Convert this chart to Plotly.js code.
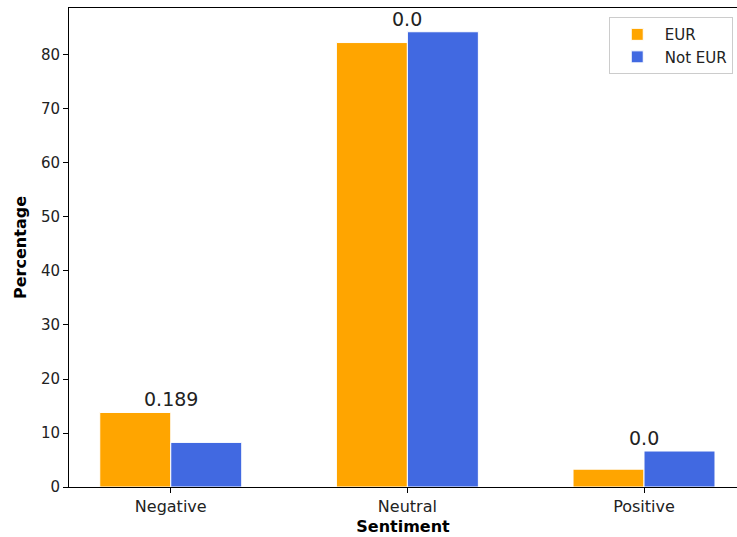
<!DOCTYPE html>
<html>
<head>
<meta charset="utf-8">
<script src="https://cdn.plot.ly/plotly-3.0.1.min.js"></script>
<style>html,body{margin:0;padding:0;background:#fff;}#chart{width:737px;height:537px;}</style>
</head>
<body>
<div id="chart"></div>
<script>
const categories = ["Negative", "Neutral", "Positive"];
const eurValues = [13.8, 82.3, 3.3];
const notEurValues = [8.26, 84.3, 6.66];
const groupLabels = ["0.189", "0.0", "0.0"];
const seriesNames = ["EUR", "Not EUR"];
const yTicks = [0, 10, 20, 30, 40, 50, 60, 70, 80];

const font = "DejaVu Sans, sans-serif";

const traces = [
  {type: "bar", name: seriesNames[0], x: categories, y: eurValues,
   marker: {color: "#FFA500", line: {color: "#ffffff", width: 1}}},
  {type: "bar", name: seriesNames[1], x: categories, y: notEurValues,
   marker: {color: "#4169E1", line: {color: "#ffffff", width: 1}}}
];

const annotations = categories.map((c, i) => ({
  x: c, y: Math.max(eurValues[i], notEurValues[i]), xref: "x", yref: "y",
  text: groupLabels[i], showarrow: false, yanchor: "bottom", yshift: 0,
  font: {family: font, size: 19, color: "#222"}
}));

const layout = {
  width: 737, height: 537,
  margin: {l: 69, r: 0, t: 8, b: 50, pad: 0},
  paper_bgcolor: "#fff", plot_bgcolor: "#fff",
  barmode: "group", bargap: 0.4, bargroupgap: 0,
  showlegend: true,
  legend: {x: 0.808, y: 0.981, xanchor: "left", yanchor: "top",
    itemwidth: 45,
    bgcolor: "rgba(255,255,255,0.9)", bordercolor: "#cccccc", borderwidth: 1,
    font: {family: font, size: 15, color: "#222"}},
  xaxis: {range: [-0.43, 2.393], showline: true, linecolor: "#000", linewidth: 1,
    mirror: true, ticks: "outside", ticklen: 5, tickcolor: "#000", showgrid: false,
    tickfont: {family: font, size: 16, color: "#222"},
    title: {text: "<b>Sentiment</b>", font: {family: font, size: 16, color: "#000"}, standoff: 5}},
  yaxis: {range: [0, 88.7], showline: true, linecolor: "#000", linewidth: 1,
    ticks: "outside", ticklen: 5, tickcolor: "#000", showgrid: false, zeroline: false,
    tickvals: yTicks, ticktext: yTicks.map(String),
    tickfont: {family: font, size: 15, color: "#222"},
    title: {text: "<b>Percentage</b>", font: {family: font, size: 16, color: "#000"}, standoff: 10}},
  annotations: annotations
};

Plotly.newPlot("chart", traces, layout, {displayModeBar: false, staticPlot: true});
</script>
</body>
</html>
